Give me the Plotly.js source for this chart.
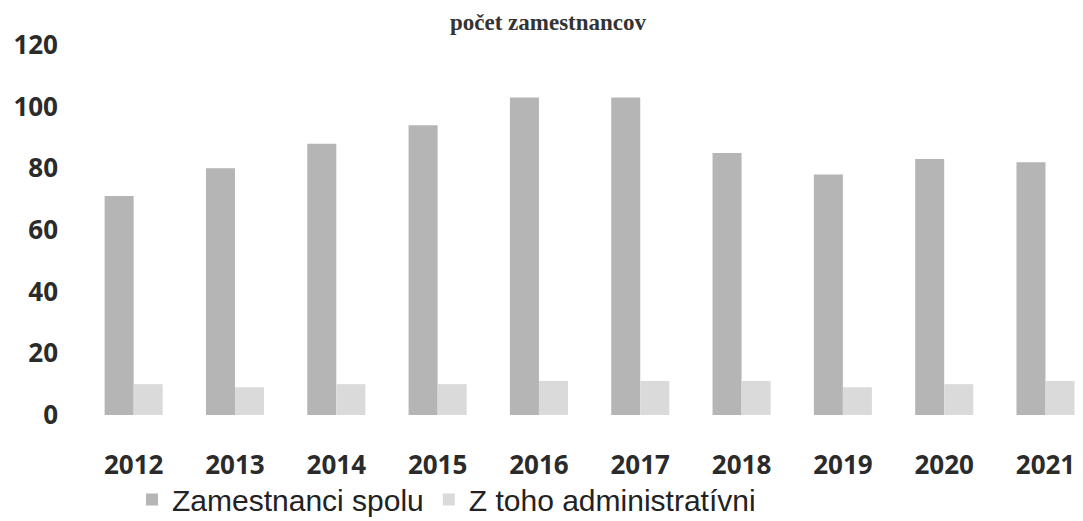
<!DOCTYPE html>
<html>
<head>
<meta charset="utf-8">
<script src="https://cdn.plot.ly/plotly-3.0.1.min.js"></script>
<style>html,body{margin:0;padding:0;background:#fff;}#chart{width:1083px;height:521px;}</style>
</head>
<body>
<div id="chart"></div>
<script>
const years = ["2012","2013","2014","2015","2016","2017","2018","2019","2020","2021"];
const zamestnanciSpolu = [71, 80, 88, 94, 103, 103, 85, 78, 83, 82];
const zTohoAdministrativni = [10, 9, 10, 10, 11, 11, 11, 9, 10, 11];
const seriesNames = ["Zamestnanci spolu", "Z toho administratívni"];
const chartTitle = "počet zamestnancov";

const traces = [
  {type: "bar", name: seriesNames[0], x: years, y: zamestnanciSpolu,
   marker: {color: "#b5b5b5"}, hoverinfo: "x+y"},
  {type: "bar", name: seriesNames[1], x: years, y: zTohoAdministrativni,
   marker: {color: "#dadada"}, hoverinfo: "x+y"}
];

const layout = {
  width: 1083, height: 521,
  margin: {l: 83, r: 0, t: 45, b: 106, autoexpand: false},
  paper_bgcolor: "#ffffff", plot_bgcolor: "#ffffff",
  barmode: "group", bargap: 0.427, bargroupgap: 0,
  title: {text: "<b>" + chartTitle + "</b>", font: {family: "Liberation Serif", size: 23, color: "#333"},
          xref: "paper", x: 0.465, xanchor: "center", yref: "container", y: 0.957, yanchor: "middle"},
  xaxis: {type: "category", range: [-0.5, 9.37], showgrid: false, zeroline: false, showline: false,
          ticks: "", ticklabelstandoff: 32,
          tickfont: {family: "Open Sans", size: 26, color: "#2b2b2b", weight: "bold"}},
  yaxis: {range: [0, 120], dtick: 20, showgrid: false, zeroline: false, showline: false,
          ticks: "", ticklabelstandoff: 24,
          tickfont: {family: "Open Sans", size: 26, color: "#2b2b2b", weight: "bold"}},
  legend: {orientation: "h", x: 0.049, xanchor: "left", y: -0.158, yanchor: "top",
           font: {family: "Liberation Sans", size: 30, color: "#222"}, bgcolor: "rgba(0,0,0,0)"},
  showlegend: true
};

Plotly.newPlot("chart", traces, layout, {displayModeBar: false, staticPlot: true});
</script>
</body>
</html>
